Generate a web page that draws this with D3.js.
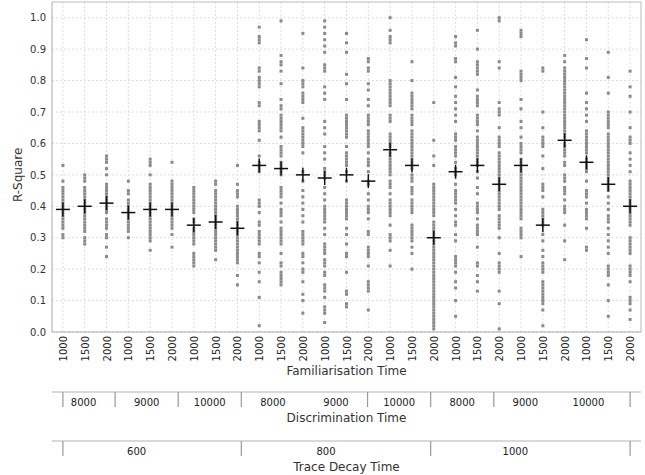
<!DOCTYPE html>
<html>
<head>
<meta charset="utf-8">
<script src="https://cdn.jsdelivr.net/npm/d3@7"></script>
<style>
  body { margin: 0; background: #fff; }
  text { font-family: "DejaVu Sans", sans-serif; }
</style>
</head>
<body>
<div id="chart"></div>
<script>
// familiarisation time, one per strip
const famTimes = ["1000","1500","2000","1000","1500","2000","1000","1500","2000",
                  "1000","1500","2000","1000","1500","2000","1000","1500","2000",
                  "1000","1500","2000","1000","1500","2000","1000","1500","2000"];
// discrimination time groups (3 strips each)
const discTimes = ["8000","9000","10000","8000","9000","10000","8000","9000","10000"];
// trace decay time groups (9 strips each)
const decayTimes = ["600","800","1000"];
// boundaries of the discrimination groups that carry a tick
const discTickIdx = [1, 2, 3, 5, 6, 7];
const decayTickIdx = [3, 6];

// mean marker per strip
const means = [0.39,0.40,0.41,0.38,0.39,0.39,0.34,0.35,0.33,
               0.53,0.52,0.50,0.49,0.50,0.48,0.58,0.53,0.30,
               0.51,0.53,0.47,0.53,0.34,0.61,0.54,0.47,0.40];

// R-square values per strip
const rsq = [
  [0.53,0.48,0.46,0.45,0.44,0.43,0.42,0.41,0.40,0.39,0.38,0.37,0.36,0.35,0.34,0.33,0.31,0.30],
  [0.50,0.49,0.48,0.46,0.45,0.44,0.43,0.42,0.41,0.40,0.39,0.38,0.37,0.36,0.35,0.34,0.33,0.32,0.30,0.29,0.28],
  [0.56,0.55,0.54,0.52,0.50,0.47,0.46,0.45,0.44,0.43,0.42,0.41,0.40,0.39,0.38,0.36,0.35,0.34,0.33,0.31,0.30,0.27,0.24],
  [0.48,0.45,0.44,0.42,0.41,0.40,0.39,0.38,0.37,0.36,0.35,0.34,0.33,0.32,0.30],
  [0.55,0.54,0.53,0.50,0.47,0.46,0.45,0.44,0.43,0.42,0.41,0.40,0.39,0.38,0.37,0.36,0.35,0.34,0.33,0.32,0.31,0.30,0.29,0.26],
  [0.54,0.48,0.47,0.46,0.45,0.44,0.43,0.42,0.41,0.40,0.39,0.38,0.37,0.36,0.35,0.34,0.33,0.31,0.27],
  [0.46,0.45,0.44,0.43,0.42,0.41,0.40,0.39,0.38,0.36,0.35,0.33,0.32,0.31,0.30,0.29,0.28,0.25,0.24,0.23,0.22,0.21],
  [0.48,0.47,0.45,0.44,0.43,0.42,0.41,0.40,0.39,0.38,0.37,0.36,0.35,0.34,0.33,0.32,0.31,0.30,0.29,0.28,0.27,0.26,0.23],
  [0.53,0.47,0.45,0.44,0.43,0.40,0.39,0.38,0.37,0.36,0.35,0.34,0.33,0.32,0.31,0.30,0.29,0.28,0.27,0.26,0.25,0.24,0.23,0.22,0.18,0.15],
  [0.97,0.94,0.93,0.92,0.84,0.83,0.81,0.80,0.79,0.78,0.73,0.72,0.67,0.66,0.65,0.64,0.61,0.56,0.54,0.53,0.52,0.51,0.42,0.41,0.40,0.38,0.35,0.34,0.32,0.31,0.30,0.29,0.28,0.25,0.24,0.22,0.19,0.16,0.11,0.02],
  [0.99,0.88,0.86,0.85,0.83,0.79,0.74,0.72,0.71,0.69,0.68,0.67,0.66,0.65,0.64,0.62,0.59,0.58,0.57,0.56,0.54,0.53,0.52,0.51,0.50,0.46,0.45,0.44,0.43,0.41,0.39,0.38,0.37,0.35,0.33,0.32,0.31,0.30,0.29,0.28,0.25,0.22,0.21,0.19,0.18,0.17,0.16,0.15],
  [0.95,0.84,0.80,0.79,0.78,0.76,0.75,0.74,0.73,0.68,0.65,0.64,0.63,0.62,0.61,0.60,0.59,0.57,0.51,0.48,0.45,0.43,0.41,0.39,0.37,0.35,0.32,0.31,0.30,0.29,0.28,0.25,0.24,0.22,0.20,0.19,0.16,0.12,0.10,0.06],
  [0.99,0.97,0.95,0.93,0.91,0.89,0.85,0.84,0.83,0.78,0.76,0.74,0.67,0.65,0.63,0.59,0.57,0.55,0.52,0.51,0.50,0.49,0.46,0.44,0.42,0.40,0.39,0.38,0.37,0.36,0.35,0.33,0.31,0.28,0.27,0.26,0.25,0.23,0.22,0.21,0.19,0.18,0.15,0.14,0.13,0.11,0.08,0.07,0.06,0.03],
  [0.95,0.92,0.89,0.82,0.79,0.74,0.69,0.68,0.67,0.66,0.65,0.64,0.63,0.62,0.59,0.57,0.56,0.55,0.54,0.53,0.51,0.48,0.42,0.41,0.40,0.39,0.38,0.37,0.36,0.33,0.31,0.28,0.25,0.24,0.19,0.13,0.12,0.09,0.08],
  [0.87,0.86,0.84,0.83,0.79,0.77,0.74,0.72,0.69,0.68,0.67,0.66,0.64,0.63,0.62,0.61,0.60,0.59,0.57,0.55,0.54,0.53,0.51,0.48,0.47,0.44,0.42,0.40,0.39,0.38,0.36,0.32,0.31,0.27,0.26,0.25,0.24,0.21,0.16,0.15,0.14,0.13,0.07],
  [1.00,0.96,0.94,0.93,0.92,0.80,0.79,0.78,0.77,0.76,0.75,0.74,0.73,0.72,0.69,0.68,0.67,0.63,0.62,0.61,0.60,0.59,0.57,0.56,0.55,0.54,0.53,0.52,0.51,0.50,0.48,0.47,0.46,0.44,0.42,0.41,0.40,0.39,0.38,0.37,0.34,0.31,0.30,0.29,0.26,0.21],
  [0.86,0.80,0.76,0.75,0.74,0.73,0.72,0.71,0.69,0.68,0.67,0.66,0.64,0.63,0.62,0.61,0.60,0.59,0.58,0.57,0.56,0.55,0.54,0.53,0.52,0.50,0.49,0.48,0.46,0.45,0.44,0.42,0.41,0.40,0.39,0.38,0.34,0.33,0.32,0.31,0.30,0.29,0.27,0.25,0.20],
  [0.73,0.61,0.56,0.53,0.47,0.46,0.45,0.44,0.43,0.42,0.41,0.40,0.39,0.38,0.37,0.35,0.34,0.33,0.32,0.31,0.30,0.29,0.28,0.27,0.26,0.25,0.24,0.23,0.22,0.21,0.20,0.19,0.18,0.17,0.16,0.15,0.14,0.13,0.12,0.11,0.10,0.09,0.08,0.07,0.06,0.05,0.04,0.03,0.02,0.01],
  [0.94,0.92,0.91,0.87,0.86,0.81,0.78,0.75,0.73,0.71,0.69,0.67,0.63,0.62,0.61,0.59,0.58,0.57,0.56,0.54,0.52,0.51,0.50,0.47,0.45,0.44,0.43,0.42,0.41,0.39,0.37,0.35,0.34,0.31,0.29,0.24,0.23,0.22,0.21,0.19,0.16,0.14,0.10,0.05],
  [0.96,0.90,0.86,0.85,0.84,0.83,0.82,0.77,0.75,0.74,0.73,0.72,0.69,0.68,0.67,0.66,0.64,0.62,0.61,0.60,0.59,0.58,0.57,0.56,0.55,0.54,0.53,0.51,0.49,0.46,0.44,0.41,0.40,0.39,0.38,0.36,0.34,0.33,0.32,0.31,0.27,0.22,0.21,0.18,0.16,0.13],
  [1.00,0.99,0.86,0.84,0.73,0.71,0.70,0.69,0.65,0.62,0.61,0.60,0.59,0.57,0.56,0.55,0.54,0.53,0.52,0.51,0.50,0.49,0.48,0.47,0.46,0.45,0.44,0.43,0.42,0.41,0.40,0.39,0.37,0.36,0.35,0.34,0.33,0.30,0.25,0.22,0.21,0.20,0.19,0.13,0.09,0.01],
  [0.96,0.95,0.94,0.83,0.82,0.81,0.80,0.74,0.71,0.67,0.65,0.62,0.60,0.59,0.58,0.57,0.55,0.54,0.53,0.52,0.51,0.50,0.49,0.48,0.47,0.46,0.45,0.44,0.43,0.42,0.41,0.40,0.39,0.38,0.37,0.36,0.33,0.32,0.31,0.30,0.24],
  [0.84,0.83,0.70,0.65,0.62,0.61,0.60,0.59,0.56,0.52,0.47,0.46,0.45,0.43,0.39,0.38,0.37,0.36,0.35,0.34,0.31,0.29,0.26,0.24,0.22,0.21,0.20,0.19,0.16,0.15,0.14,0.13,0.12,0.11,0.10,0.09,0.07,0.02],
  [0.88,0.86,0.84,0.83,0.82,0.81,0.80,0.79,0.78,0.77,0.76,0.75,0.74,0.73,0.72,0.71,0.70,0.69,0.68,0.67,0.66,0.65,0.64,0.63,0.62,0.60,0.59,0.58,0.57,0.56,0.54,0.53,0.50,0.49,0.48,0.46,0.45,0.44,0.42,0.40,0.39,0.38,0.34,0.29,0.23],
  [0.93,0.87,0.84,0.76,0.73,0.71,0.69,0.67,0.64,0.63,0.62,0.61,0.60,0.59,0.58,0.57,0.55,0.54,0.53,0.52,0.51,0.48,0.45,0.44,0.43,0.41,0.39,0.38,0.37,0.36,0.33,0.27,0.26],
  [0.89,0.81,0.76,0.70,0.69,0.68,0.67,0.66,0.65,0.63,0.62,0.61,0.60,0.59,0.58,0.57,0.56,0.55,0.54,0.53,0.52,0.51,0.50,0.49,0.48,0.47,0.46,0.45,0.43,0.41,0.39,0.37,0.36,0.35,0.33,0.31,0.29,0.27,0.25,0.21,0.20,0.19,0.18,0.15,0.10,0.05],
  [0.83,0.78,0.75,0.70,0.65,0.62,0.61,0.60,0.57,0.55,0.53,0.51,0.48,0.47,0.46,0.45,0.44,0.43,0.42,0.41,0.40,0.39,0.38,0.37,0.36,0.35,0.34,0.30,0.29,0.28,0.27,0.26,0.25,0.21,0.20,0.19,0.18,0.16,0.11,0.10,0.09,0.07,0.04]
];

const width = 645;
const height = 475;
const plot = { left: 52, right: 641, top: 2, bottom: 332 };

const svg = d3.select("#chart")
              .append("svg")
              .attr("width", width)
              .attr("height", height);

const idx = d3.range(famTimes.length);

const x = d3.scalePoint()
            .domain(idx)
            .range([plot.left, plot.right])
            .padding(0.5);

const y = d3.scaleLinear()
            .domain([0, 1.05])
            .range([plot.bottom, plot.top]);

// group axes run on their own (slightly offset) scale
const groupX = d3.scaleLinear()
                 .domain([0, discTimes.length])
                 .range([52, 620]);

// grid
svg.append("g")
   .selectAll("line")
   .data(d3.range(0, 11).map(d => d / 10))
   .join("line")
   .attr("x1", plot.left).attr("x2", plot.right)
   .attr("y1", d => y(d)).attr("y2", d => y(d))
   .attr("stroke", "#ddd")
   .attr("stroke-dasharray", "2,2");

svg.append("g")
   .selectAll("line")
   .data(idx)
   .join("line")
   .attr("x1", d => x(d)).attr("x2", d => x(d))
   .attr("y1", plot.top).attr("y2", plot.bottom)
   .attr("stroke", "#ddd")
   .attr("stroke-dasharray", "2,2");

// frame
svg.append("path")
   .attr("d", `M${plot.left},${plot.top}H${plot.right}V${plot.bottom}`)
   .attr("fill", "none")
   .attr("stroke", "#bbb");
svg.append("path")
   .attr("d", `M${plot.left},${plot.top}V${plot.bottom}H${plot.right}`)
   .attr("fill", "none")
   .attr("stroke", "#aaa");

// points
const pts = [];
rsq.forEach((vals, i) => vals.forEach(v => pts.push({ i, v })));

svg.append("g")
   .selectAll("rect")
   .data(pts)
   .join("rect")
   .attr("x", d => x(d.i) - 1.5)
   .attr("y", d => y(d.v) - 1.5)
   .attr("width", 3)
   .attr("height", 3)
   .attr("fill", "#8a8a8a");

// mean crosses
const crosses = svg.append("g")
                   .selectAll("g")
                   .data(means)
                   .join("g")
                   .attr("transform", (d, i) => `translate(${x(i)},${y(d)})`);
crosses.append("line")
       .attr("x1", -7).attr("x2", 7)
       .attr("stroke", "#111").attr("stroke-width", 1.5);
crosses.append("line")
       .attr("y1", -7).attr("y2", 7)
       .attr("stroke", "#111").attr("stroke-width", 1.5);

// y axis
const yAxis = svg.append("g")
   .attr("transform", `translate(${plot.left}, 0)`)
   .call(d3.axisLeft(y).tickValues(d3.range(0, 11).map(d => d / 10))
                       .tickFormat(d3.format(".1f"))
                       .tickSize(0).tickPadding(6));
yAxis.select(".domain").remove();
yAxis.selectAll("text")
     .style("font-size", "10px")
     .attr("fill", "#333");

svg.append("text")
   .attr("transform", `translate(22, ${y(0.5)}) rotate(-90)`)
   .style("text-anchor", "middle")
   .style("font-size", "12px")
   .attr("fill", "#333")
   .text("R-Square");

// familiarisation axis
const xAxis = svg.append("g")
   .attr("transform", `translate(0, ${plot.bottom})`)
   .call(d3.axisBottom(x).tickFormat(i => famTimes[i]).tickSize(0));
xAxis.select(".domain").remove();
xAxis.selectAll("text")
     .style("font-size", "10px")
     .style("text-anchor", "end")
     .attr("fill", "#222")
     .attr("dx", "-4")
     .attr("dy", "0.35em")
     .attr("y", 0)
     .attr("transform", "rotate(-90)");

svg.append("text")
   .attr("x", (plot.left + plot.right) / 2)
   .attr("y", 375)
   .style("text-anchor", "middle")
   .style("font-size", "12px")
   .attr("fill", "#333")
   .text("Familiarisation Time");

// grouped axis helper
function groupAxis(yLine, ticks, labels, labelX, title) {
  const g = svg.append("g");
  g.append("line")
   .attr("x1", plot.left).attr("x2", plot.right)
   .attr("y1", yLine).attr("y2", yLine)
   .attr("stroke", "#ccc").attr("stroke-width", 1.5);
  g.selectAll(".tk")
   .data(ticks)
   .join("line")
   .attr("x1", d => d).attr("x2", d => d)
   .attr("y1", yLine).attr("y2", yLine + 15)
   .attr("stroke", "#999").attr("stroke-width", 1.2);
  g.selectAll(".lb")
   .data(labels)
   .join("text")
   .attr("x", (d, i) => labelX(i))
   .attr("y", yLine + 14)
   .style("text-anchor", "middle")
   .style("font-size", "10px")
   .attr("fill", "#222")
   .text(d => d);
  g.append("text")
   .attr("x", (plot.left + plot.right) / 2)
   .attr("y", yLine + 30)
   .style("text-anchor", "middle")
   .style("font-size", "12px")
   .attr("fill", "#333")
   .text(title);
}

const firstX = x(0);
const lastX = x(idx.length - 1);

groupAxis(392,
  [firstX, ...discTickIdx.map(k => groupX(k)), lastX],
  discTimes,
  i => groupX(i + 0.5),
  "Discrimination Time");

groupAxis(441,
  [firstX, ...decayTickIdx.map(k => groupX(k)), lastX],
  decayTimes,
  i => groupX(i * 3 + 1.5) - 10,
  "Trace Decay Time");
</script>
</body>
</html>
